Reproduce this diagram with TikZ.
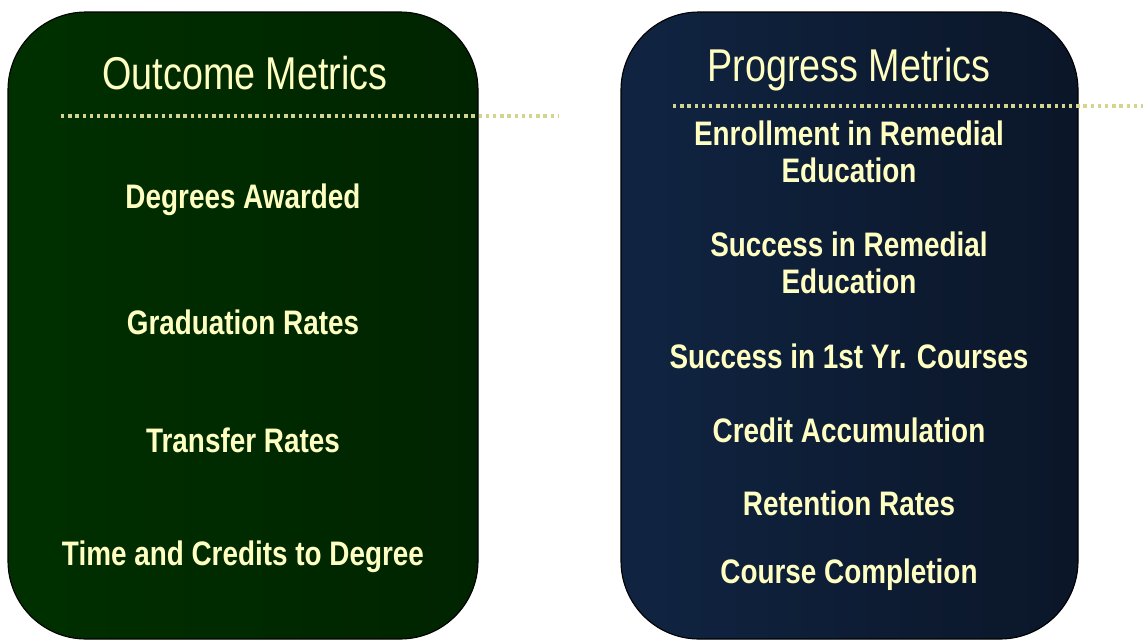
\documentclass[tikz,border=0pt]{standalone}
\usepackage{fontspec}
\setmainfont[FakeStretch=0.82]{Liberation Sans}
\usepackage{tikz}
\definecolor{cream}{HTML}{FFFFC2}
\definecolor{khaki}{HTML}{D4D48E}
\definecolor{forest}{HTML}{003000}
\definecolor{forestdk}{HTML}{002400}
\definecolor{navy}{HTML}{102442}
\definecolor{navydk}{HTML}{0B1628}
\tikzset{
  metricbox/.style={draw=black,line width=1.1pt,rounded corners=78pt,minimum width=470pt,minimum height=627pt},
  boxtitle/.style={text=cream,font=\fontsize{46}{50}\selectfont,inner sep=0pt},
  item/.style={text=cream,font=\bfseries\fontsize{34}{37}\selectfont,align=center,inner sep=0pt},
  sepline/.style={khaki,line width=3.3pt,dash pattern=on 3.3pt off 3.9pt}
}
\begin{document}
\begin{tikzpicture}[x=1pt,y=-1pt]
\useasboundingbox (0,0) rectangle (1143,640);
\node[metricbox,left color=forest,right color=forestdk] (outbox) at (243,325.5) {};
\node[metricbox,minimum width=457pt,left color=navy,right color=navydk] (progbox) at (849.5,325.5) {};
\node[boxtitle] (outtitle) at (245,73) {Outcome Metrics};
\node[boxtitle] (progtitle) at (849,70) {Progress Metrics};
\coordinate (outa) at (61,116);
\coordinate (outb) at (558,116);
\coordinate (proga) at (673,106);
\coordinate (progb) at (1143,106);
\draw[sepline] (outa) -- (outb);
\draw[sepline] (proga) -- (progb);
\foreach \t/\y [count=\i] in {Degrees Awarded/200,Graduation Rates/322,Transfer Rates/440,Time and Credits to Degree/557}
\node[item] (out\i) at (243,\y) {\t};
\foreach \t/\y [count=\i] in {{Enrollment in Remedial\\Education}/152,{Success in Remedial\\Education}/263,Success in 1st Yr. Courses/356,Credit Accumulation/430,Retention Rates/503,Course Completion/575}
\node[item] (prog\i) at (849,\y) {\t};
\end{tikzpicture}
\end{document}
